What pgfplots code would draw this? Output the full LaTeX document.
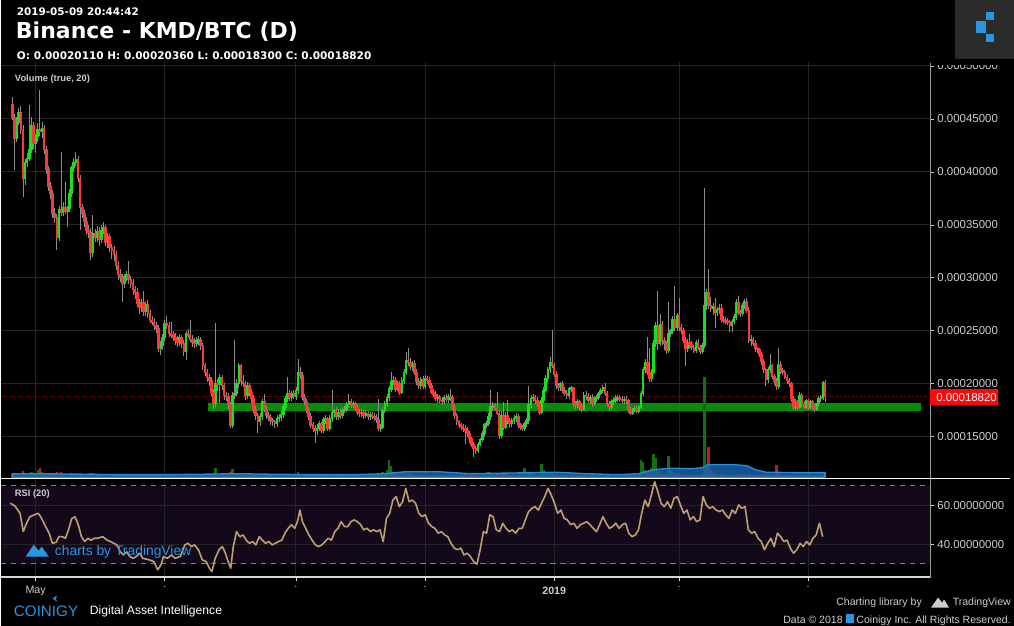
\documentclass[border=0pt]{standalone}
\usepackage{pgfplots}
\pgfplotsset{compat=1.18}
\usepackage{pgfplotstable}
\usepackage{fontspec}
\setmainfont{Liberation Sans}
\newfontfamily\hdr{DejaVu Sans}
\definecolor{gridc}{RGB}{36,36,36}
\definecolor{upc}{RGB}{25,225,25}
\definecolor{dnc}{RGB}{250,58,58}
\definecolor{wickc}{RGB}{140,140,140}
\definecolor{tickc}{RGB}{205,205,205}
\definecolor{rsic}{RGB}{190,160,112}
\definecolor{tvblue}{RGB}{40,150,225}
\definecolor{supp}{RGB}{10,138,10}
\definecolor{volma}{RGB}{28,100,175}
\definecolor{volmaedge}{RGB}{40,140,220}
\definecolor{volup}{RGB}{20,110,20}
\definecolor{voldn}{RGB}{190,30,30}
\definecolor{rsibg}{RGB}{20,9,26}
\definecolor{priceline}{RGB}{150,0,0}
\definecolor{pricebox}{RGB}{250,10,10}

\pgfplotstableread{
d o h l c v
-11 464 471 449 451 4
-10 451 455 402 432 5
-9 432 452 428 447 4
-8 447 460 444 456 4
-7 456 462 436 440 5
-6 440 444 376 394 7
-5 394 412 388 409 4
-4 409 418 405 413 3
-3 413 463 410 421 5
-2 421 452 418 444 6
-1 444 447 422 427 4
0 427 436 418 433 4
1 433 446 428 440 8
2 440 477 434 438 10
3 438 447 432 441 6
4 441 444 417 421 5
5 421 424 398 402 4
6 402 406 382 386 4
7 386 390 374 380 3
8 380 383 356 361 4
9 361 366 352 357 3
10 357 360 326 338 6
11 338 368 335 364 5
12 364 419 358 362 6
13 362 372 358 366 3
14 366 390 360 363 4
15 363 368 348 365 3
16 365 384 362 380 4
17 380 406 376 404 5
18 404 413 400 409 4
19 409 419 406 412 4
20 412 415 390 394 4
21 394 397 345 366 5
22 366 370 356 361 3
23 361 364 348 353 3
24 353 357 340 345 3
25 345 350 338 343 3
26 343 347 317 324 5
27 324 359 320 342 5
28 342 346 334 338 3
29 338 349 334 344 3
30 344 348 330 336 3
31 336 350 333 345 3
32 345 353 341 347 3
33 347 350 330 333 3
34 333 342 328 339 3
35 339 341 324 329 3
36 329 332 318 326 3
37 326 330 316 322 3
38 322 325 307 312 3
39 312 316 298 303 3
40 303 308 296 300 3
41 300 304 277 295 4
42 295 304 290 301 3
43 301 306 297 303 3
44 303 316 294 298 3
45 298 302 290 295 3
46 295 299 284 289 3
47 289 292 280 286 3
48 286 290 272 276 3
49 276 280 266 272 3
50 272 280 268 277 3
51 277 288 264 268 3
52 268 277 264 275 3
53 275 279 262 266 3
54 266 270 257 260 3
55 260 264 255 258 3
56 258 262 251 255 3
57 255 258 248 252 3
58 252 255 230 233 4
59 233 240 227 236 4
60 236 247 232 244 3
61 244 260 240 257 4
62 257 264 252 255 3
63 255 258 244 247 3
64 247 258 243 246 3
65 246 250 240 244 3
66 244 248 237 241 3
67 241 245 235 239 3
68 239 247 236 244 3
69 244 246 234 238 3
70 238 241 226 230 3
71 230 250 222 247 4
72 247 252 243 246 3
73 246 260 239 242 3
74 242 246 235 239 3
75 239 243 234 238 3
76 238 244 235 241 3
77 241 245 237 242 3
78 242 244 232 236 3
79 236 238 213 217 4
80 217 220 207 211 3
81 211 214 202 206 3
82 206 209 198 203 3
83 203 206 188 192 4
84 192 195 176 181 5
85 181 257 178 200 10
86 200 204 193 199 4
87 199 209 182 206 4
88 206 208 194 198 3
89 198 201 185 189 3
90 189 192 184 188 3
91 188 191 176 180 4
92 180 183 158 161 6
93 161 192 158 189 9
94 189 241 186 191 5
95 191 204 188 200 4
96 200 220 196 217 5
97 217 219 198 202 4
98 202 208 197 200 3
99 200 203 185 189 3
100 189 202 186 198 3
101 198 201 188 192 3
102 192 195 182 186 3
103 186 189 172 176 3
104 176 179 166 170 3
105 170 172 153 164 4
106 164 172 160 169 3
107 169 186 166 183 4
108 183 190 173 176 3
109 176 179 167 170 3
110 170 173 165 168 3
111 168 171 161 165 3
112 165 168 160 164 3
113 164 166 158 162 3
114 162 170 159 167 3
115 167 171 164 168 3
116 168 174 165 171 3
117 171 181 168 178 3
118 178 188 175 186 4
119 186 206 183 191 4
120 191 194 184 187 3
121 187 193 184 191 3
122 191 194 186 188 3
123 188 197 185 194 4
124 194 223 190 211 6
125 211 216 204 208 4
126 208 211 185 187 4
127 187 190 180 183 3
128 183 186 172 175 3
129 175 178 166 169 3
130 169 172 158 161 4
131 161 164 154 158 3
132 158 161 144 156 4
133 156 162 152 158 3
134 158 165 155 162 3
135 162 164 153 156 3
136 156 169 153 166 4
137 166 170 162 167 3
138 167 169 155 158 3
139 158 170 155 167 3
140 167 194 164 173 4
141 173 176 168 175 3
142 175 178 166 169 3
143 169 176 166 173 3
144 173 176 167 170 3
145 170 178 168 175 3
146 175 179 172 176 3
147 176 183 173 180 3
148 180 190 177 183 3
149 183 186 177 180 3
150 180 184 177 181 3
151 181 183 174 177 3
152 177 180 170 173 3
153 173 176 169 172 3
154 172 176 169 173 3
155 173 175 167 170 3
156 170 175 168 172 3
157 172 174 166 169 3
158 169 173 166 171 3
159 171 173 167 169 3
160 169 172 165 168 3
161 168 171 163 166 3
162 166 186 155 158 5
163 158 162 154 159 4
164 159 178 157 175 6
165 175 184 172 181 5
166 181 190 178 187 8
167 187 198 184 195 18
168 195 211 192 202 12
169 202 207 199 203 6
170 203 206 192 195 5
171 195 203 193 200 4
172 200 203 189 192 4
173 192 206 190 203 5
174 203 214 200 211 5
175 211 230 208 222 6
176 222 234 217 220 5
177 220 224 213 216 4
178 216 221 212 219 3
179 219 222 208 211 3
180 211 214 199 202 3
181 202 205 195 198 3
182 198 206 195 204 3
183 204 207 195 197 3
184 197 208 195 205 3
185 205 207 200 203 3
186 203 206 196 198 3
187 198 201 190 192 3
188 192 195 187 190 3
189 190 193 184 186 3
190 186 190 182 187 3
191 187 189 182 184 3
192 184 187 180 183 3
193 183 189 181 187 3
194 187 190 183 185 3
195 185 190 182 188 3
196 188 195 184 187 3
197 187 189 175 178 3
198 178 180 167 170 3
199 170 172 161 164 3
200 164 166 158 161 3
201 161 163 156 160 3
202 160 162 154 158 3
203 158 161 143 156 4
204 156 159 150 153 3
205 153 155 144 148 3
206 148 150 140 143 3
207 143 145 131 139 4
208 139 141 134 137 3
209 137 145 135 143 4
210 143 149 141 147 3
211 147 155 145 153 4
212 153 163 150 161 5
213 161 165 158 162 3
214 162 172 160 169 6
215 169 194 166 178 5
216 178 183 174 179 4
217 179 182 174 177 3
218 177 192 170 172 4
219 172 175 148 151 5
220 151 174 149 170 4
221 170 183 156 159 4
222 159 173 157 170 4
223 170 185 162 165 3
224 165 168 158 162 3
225 162 168 159 165 3
226 165 170 162 167 3
227 167 172 164 169 3
228 169 171 158 161 3
229 161 163 156 159 3
230 159 161 155 158 3
231 158 164 155 162 10
232 162 168 159 165 5
233 165 198 162 180 6
234 180 189 177 186 5
235 186 190 183 187 4
236 187 189 181 184 3
237 184 187 178 181 3
238 181 184 170 173 3
239 173 187 171 184 14
240 184 197 182 194 8
241 194 208 192 205 6
242 205 216 202 213 5
243 213 225 210 220 5
244 220 251 215 217 6
245 217 220 206 209 4
246 209 212 195 198 4
247 198 201 193 196 3
248 196 202 193 200 3
249 200 203 191 194 3
250 194 197 188 191 3
251 191 194 186 189 3
252 189 197 186 195 3
253 195 198 192 196 3
254 196 197 178 181 4
255 181 184 176 179 3
256 179 186 177 183 3
257 183 185 175 178 3
258 178 181 173 176 3
259 176 192 174 189 4
260 189 193 185 188 3
261 188 191 182 184 3
262 184 189 181 187 3
263 187 190 178 181 3
264 181 188 179 186 3
265 186 189 183 187 3
266 187 192 185 191 3
267 191 196 189 194 3
268 194 199 191 196 4
269 196 201 188 191 4
270 191 193 179 181 3
271 181 184 174 178 3
272 178 186 176 183 3
273 183 187 180 184 3
274 184 189 182 186 3
275 186 189 183 187 3
276 187 189 183 185 3
277 185 188 182 184 3
278 184 187 181 185 3
279 185 188 181 184 3
280 184 186 172 175 3
281 175 178 170 172 4
282 172 177 170 175 3
283 175 179 173 177 3
284 177 179 172 174 3
285 174 180 172 178 4
286 178 193 176 191 18
287 191 216 188 213 16
288 213 223 210 220 8
289 220 244 208 211 6
290 211 234 202 205 5
291 205 214 202 211 10
292 211 241 209 238 24
293 238 258 235 255 20
294 255 288 232 238 8
295 238 266 236 256 6
296 256 259 237 241 5
297 241 244 232 238 4
298 238 240 228 231 4
299 231 277 229 247 22
300 247 252 244 250 8
301 250 264 247 261 6
302 261 292 250 253 5
303 253 267 250 264 5
304 264 281 250 253 4
305 253 256 247 250 3
306 250 253 238 241 3
307 241 244 217 233 4
308 233 242 230 239 3
309 239 247 234 237 3
310 237 240 232 234 3
311 234 237 229 231 3
312 231 241 229 239 3
313 239 242 232 234 3
314 234 237 228 230 3
315 230 238 228 236 4
316 236 385 234 274 101
317 274 289 270 286 14
318 286 308 271 274 31
319 274 282 268 271 8
320 271 276 265 273 5
321 273 281 253 267 6
322 267 272 264 270 4
323 270 275 266 271 4
324 271 275 258 261 4
325 261 264 257 260 3
326 260 263 256 259 3
327 259 262 255 258 3
328 258 260 249 255 3
329 255 261 249 259 3
330 259 266 256 263 3
331 263 280 260 277 4
332 277 283 265 267 4
333 267 270 263 266 3
334 266 276 264 274 3
335 274 280 271 278 4
336 278 281 267 269 3
337 269 272 238 241 5
338 241 246 236 242 3
339 242 244 236 238 3
340 238 241 230 233 3
341 233 235 229 232 3
342 232 234 225 228 3
343 228 230 218 221 3
344 221 223 210 213 3
345 213 215 198 204 4
346 204 216 201 213 4
347 213 228 210 217 4
348 217 219 204 207 3
349 207 209 199 202 3
350 202 205 194 197 13
351 197 234 195 218 5
352 218 221 209 212 3
353 212 215 208 211 3
354 211 213 204 206 3
355 206 208 200 203 3
356 203 205 197 200 3
357 200 202 183 186 3
358 186 188 175 178 3
359 178 186 175 183 3
360 183 185 175 178 3
361 178 192 176 189 3
362 189 191 178 181 3
363 181 184 176 178 3
364 178 186 176 184 3
365 184 186 175 178 3
366 178 185 176 183 3
367 183 185 176 178 3
368 178 180 173 176 3
369 176 182 174 181 3
370 181 188 179 186 3
371 186 189 183 187 3
372 187 203 185 201 5
373 201.1 203.6 183 188.2 6
}\candles

\pgfplotstableread{
d m
-11 4
0 4
20 3.5
40 3
60 3
80 3.5
95 4
110 3.5
130 3
150 3
165 4
175 6
190 6
205 4
220 4.5
235 5
245 5.5
260 4
275 3
285 4
292 8
300 9.5
310 9
315 10
318 13
330 13
336 12
340 8
345 5.5
360 5
373 5
}\volma

\pgfplotstableread{
zx r
15 61
22 59.6
30 55.8
35 46.4
40 50.7
45 54
52 55
58 55.8
62 54
68 50
75 45.6
80 40.4
86 41
90 43.8
95 43.8
100 43
105 47.3
110 53.2
115 54
120 50
125 43.8
130 41.3
135 43
140 42
145 43
150 43
158 43.8
165 42
170 41.3
175 40.4
180 39.6
185 36
190 34.4
195 36
200 33.6
205 32.7
210 33.6
215 35.3
220 32.7
230 31.9
237 31
243 26.8
248 29.3
252 33.6
258 32.7
264 34.4
270 32.7
278 33.6
285 39.6
290 40.4
295 38.7
300 39.6
306 37.1
312 31.9
318 31
323 27.6
327 25.9
332 32.7
338 37.1
343 38.7
347 36
352 31
356 27.6
360 38.7
365 46.4
370 43.8
375 44.7
380 42
385 40.4
390 41.3
395 39.6
400 43.8
405 42
410 40.4
415 41.3
420 39.6
425 40.4
430 41.3
435 42
440 45.6
445 48.1
450 50
455 48.1
460 52.4
463 57.5
467 51.5
472 48.1
477 44.7
482 42
487 39.6
492 38.7
497 39.6
502 41.3
507 43
512 42
517 46.4
522 48.1
527 51.5
532 49
537 49
542 51.5
547 52.4
552 51.5
557 50
562 47.3
567 48.1
572 46.4
577 47.3
582 46.4
587 47.3
592 41.3
597 53.2
602 55.8
607 62.6
612 64.4
617 59.2
622 61.8
627 68.6
632 61.8
637 62.6
642 61
647 55.8
652 54.1
657 55
662 50.7
667 49
672 48.1
677 45.6
682 46.4
687 44.7
692 43.8
697 40.4
702 37.9
707 37.1
712 37.9
717 34.4
722 35.3
727 33.6
732 31
737 29.7
742 37.1
747 46.4
752 45.6
757 55
762 54.1
767 47.3
772 46.4
777 50.7
782 48.1
787 46.4
792 47.3
797 45.6
802 48.1
807 48.1
812 52.4
817 56.7
822 58.4
827 59.2
832 57.5
837 61
842 64.4
847 68.6
852 65.2
857 61
862 55.8
867 57.5
872 53.2
877 52.4
882 50
887 50.7
892 48.1
897 50
902 50.7
907 51.5
912 50
917 48.1
922 46.4
927 50
932 54.1
937 50.7
942 48.1
947 49
952 50.7
957 48.1
962 50
967 50.7
972 45.6
977 43.8
982 44.7
987 47.3
992 55.8
997 62.6
1002 59.2
1007 65.2
1012 72
1017 66.9
1022 61
1027 59.2
1032 61.8
1037 58.4
1042 63.5
1047 64.4
1052 60.1
1057 55.8
1062 57.5
1067 52.4
1072 54.1
1077 51.5
1082 52.4
1087 64.4
1092 60.1
1097 58.4
1102 59.2
1107 57.5
1112 56.7
1117 57.5
1122 55
1127 53.2
1132 57.5
1137 55.8
1142 60.1
1147 58.4
1152 59.2
1157 47.3
1162 45.6
1167 46.4
1172 43
1177 41.3
1182 37.1
1187 40.4
1192 43
1197 38.7
1202 45.6
1207 43.8
1212 41.3
1217 42
1222 37.9
1227 35.3
1232 37.1
1237 40.4
1242 38.7
1247 41.3
1252 39.6
1257 43
1262 44.7
1267 50.7
1272 43.8
}\rsi

\pgfplotsset{
  panel/.style={scale only axis, width=697.5pt, xmin=-16.5, xmax=422.6},
  seg/.style 2 args={#1, line width=#2, mark=none,
    quiver/every arrow/.append style={draw=#1, line width=#2, line cap=butt, -}},
}

\begin{document}
\begin{tikzpicture}
\begin{scope}[x=0.75pt,y=-0.75pt]
\fill[black] (0,0) rectangle (1014,626);
\useasboundingbox (0,0) rectangle (1014,626);
\end{scope}

% ---------- main pane: grid and price scale ----------
\begin{axis}[panel, at={(0pt,-358.5pt)}, anchor=south west, height=312pt,
  ymin=111.3, ymax=503.8,
  axis line style={draw=none},
  xtick={0,61,123,184,245,304,365}, xticklabels={}, xtick style={draw=none},
  ytick={150,200,250,300,350,400,450,500},
  ytick pos=right, yticklabel pos=right,
  yticklabels={0.00015000,0.00020000,0.00025000,0.00030000,0.00035000,0.00040000,0.00045000,0.00050000},
  yticklabel style={text=tickc, font=\fontsize{8.6}{10}\selectfont, xshift=-1pt},
  ytick style={draw=tickc, line width=0.5pt},
  tick align=outside, major tick length=3pt,
  grid=major, major grid style={draw=gridc, line width=0.75pt}]
\addplot[draw=none] coordinates {(0,200)};
\end{axis}

% ---------- candles ----------
\begin{axis}[panel, at={(0pt,-358.5pt)}, anchor=south west, height=312pt,
  ymin=111.3, ymax=503.8, hide axis]
\addplot[supp, line width=6.2pt] coordinates {(81.5,177.8) (418.3,177.8)};
\addplot[priceline, line width=0.8pt, dash pattern=on 1pt off 1pt] coordinates {(-16.5,188.2) (422.6,188.2)};
\addplot[seg={wickc}{0.6pt}, quiver={u=0, v=\thisrow{h}-\thisrow{l}}]
  table[x=d, y=l] {\candles};
\addplot[seg={upc}{1.95pt}, restrict expr to domain={\thisrow{c}-\thisrow{o}}{0:1000},
  quiver={u=0, v=\thisrow{c}-\thisrow{o}+1}]
  table[x=d, y expr={\thisrow{o}-0.5}] {\candles};
\addplot[seg={dnc}{1.95pt}, restrict expr to domain={\thisrow{c}-\thisrow{o}}{-1000:-0.001},
  quiver={u=0, v=\thisrow{c}-\thisrow{o}-1}]
  table[x=d, y expr={\thisrow{o}+0.5}] {\candles};
\end{axis}

% ---------- volume ----------
\begin{axis}[panel, at={(0pt,-358.5pt)}, anchor=south west, height=312pt,
  ymin=0, ymax=416, hide axis]
\addplot[seg={volup}{1.9pt}, restrict expr to domain={\thisrow{c}-\thisrow{o}}{0:1000},
  quiver={u=0, v=\thisrow{v}}] table[x=d, y expr=0] {\candles};
\addplot[seg={voldn}{1.9pt}, restrict expr to domain={\thisrow{c}-\thisrow{o}}{-1000:-0.001},
  quiver={u=0, v=\thisrow{v}}] table[x=d, y expr=0] {\candles};
\addplot[fill=volma, fill opacity=0.82, draw=volmaedge, line width=1pt] table[x=d, y=m] {\volma} \closedcycle;
\end{axis}

% ---------- RSI pane ----------
\begin{scope}[x=0.75pt,y=-0.75pt]
\fill[rsibg] (0,486) rectangle (930,564);
\end{scope}
\begin{axis}[panel, at={(0pt,-432.75pt)}, anchor=south west, height=73.5pt,
  ymin=23.3, ymax=73.6,
  axis line style={draw=none},
  xtick={0,61,123,184,245,304,365},
  xticklabels={May,.,.,.,\textbf{2019},.,.},
  xtick pos=bottom, xtick style={draw=tickc!70, line width=0.6pt},
  xticklabel style={text=tickc, font=\fontsize{8}{10}\selectfont, yshift=-1pt},
  ytick={40,60}, ytick pos=right, yticklabel pos=right,
  yticklabels={40.00000000,60.00000000},
  yticklabel style={text=tickc, font=\fontsize{8.6}{10}\selectfont, xshift=-1pt},
  ytick style={draw=tickc, line width=0.5pt},
  tick align=outside, major tick length=3pt,
  grid=major, major grid style={draw=gridc, line width=0.75pt}]
\addplot[gray, line width=0.8pt, dash pattern=on 4pt off 3.5pt] coordinates {(-16.5,70) (422.6,70)};
\addplot[gray, line width=0.8pt, dash pattern=on 4pt off 3.5pt] coordinates {(-16.5,30) (422.6,30)};
\addplot[rsic, line width=1.2pt, line join=round] table[x expr={(\thisrow{zx}/1.5464-35)/2.118}, y=r] {\rsi};
\end{axis}

\begin{scope}[x=0.75pt,y=-0.75pt]
% ---------- frame lines ----------
\draw[white, line width=1.1pt] (0,479) -- (1010,479);
\draw[tickc!80, line width=1.1pt] (0,577.5) -- (930,577.5);
\draw[gray!80, line width=0.75pt] (930,63) -- (930,578);

% current price label
\fill[pricebox] (930,389) rectangle (998,405);
\node[anchor=west, text=white, font=\fontsize{8.6}{10}\selectfont, inner sep=0pt] at (936,397.5) {0.00018820};

% cover above the pane on the price scale
\fill[black] (931,0) rectangle (1014,65);
\fill[black!83] (955,0) rectangle (1014,59);
\fill[tvblue] (986,12) rectangle (994,20);
\fill[tvblue] (976,21) rectangle (986,33);
\fill[tvblue] (986,34) rectangle (994,42);

% ---------- header ----------
\node[anchor=west, inner sep=0pt, text=white, font=\hdr\bfseries\fontsize{7.8}{9}\selectfont] at (16,12) {2019-05-09 20:44:42};
\node[anchor=west, inner sep=0pt, text=white, font=\hdr\bfseries\fontsize{16.5}{19}\selectfont] at (15,32) {Binance - KMD/BTC (D)};
\node[anchor=west, inner sep=0pt, text=white, font=\hdr\bfseries\fontsize{7.9}{9}\selectfont] at (16,55.5) {O: 0.00020110 H: 0.00020360 L: 0.00018300 C: 0.00018820};
\node[anchor=west, inner sep=0pt, text=tickc, font=\bfseries\fontsize{7}{8}\selectfont] at (14,79) {Volume (true, 20)};
\node[anchor=west, inner sep=0pt, text=tickc, font=\bfseries\fontsize{7}{8}\selectfont] at (14,494) {RSI (20)};

% watermark
\fill[tvblue] (25,557) -- (33,545) -- (38,551) -- (41,547) -- (48,557) -- cycle;
\node[anchor=west, inner sep=0pt, text=tvblue, font=\fontsize{10.4}{12}\selectfont] at (54,552) {charts by TradingView};

% ---------- footer ----------
\fill[tvblue] (56,596) -- (52,599) -- (56,602) -- (56,600.5) -- (54.5,599) -- (56,597.5) -- cycle;
\node[anchor=west, inner sep=0pt, text=tvblue, font=\fontsize{11.4}{13}\selectfont] at (13,612) {COINIGY};
\node[anchor=west, inner sep=0pt, text=white, font=\fontsize{9.1}{11}\selectfont] at (89,612) {Digital Asset Intelligence};
\node[anchor=east, inner sep=0pt, text=tickc, font=\fontsize{7.9}{9}\selectfont] at (922,603) {Charting library by};
\fill[tickc] (931,608) -- (938,598) -- (942,603) -- (944,600) -- (949,608) -- cycle;
\node[anchor=east, inner sep=0pt, text=tickc, font=\fontsize{7.9}{9}\selectfont] at (1011,603) {TradingView};
\node[anchor=east, inner sep=0pt, text=tickc, font=\fontsize{7.9}{9}\selectfont] at (1011,620) {Data © 2018 \textcolor{tvblue}{\rule{6pt}{7pt}} Coinigy Inc. All Rights Reserved.};
\end{scope}
\end{tikzpicture}
\end{document}
